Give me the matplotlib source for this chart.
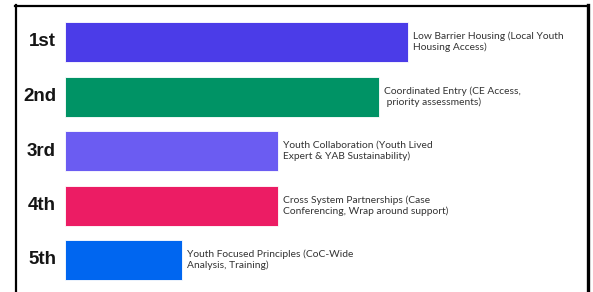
import matplotlib
matplotlib.use("Agg")
from matplotlib import pyplot as plt
from matplotlib.lines import Line2D

ranks = ["1st", "2nd", "3rd", "4th", "5th"]
scores = [100, 91.5, 62, 62, 34]
labels = [
    "Low Barrier Housing (Local Youth\nHousing Access)",
    "Coordinated Entry (CE Access,\n priority assessments)",
    "Youth Collaboration (Youth Lived\nExpert & YAB Sustainability)",
    "Cross System Partnerships (Case\nConferencing, Wrap around support)",
    "Youth Focused Principles (CoC-Wide\nAnalysis, Training)",
]
colors = ["#4b3ce8", "#009365", "#6b5cf2", "#ec1c64", "#0066f0"]

W, H = 593, 292
fig = plt.figure(figsize=(W / 100, H / 100), dpi=100)

# axes placed in pixel terms: bars start at x=65, frame ends at x=587
ax = fig.add_axes([65 / W, 0, (587 - 65) / W, 1])
step = 54.5
ax.set_ylim((H - 42) / step, -42 / step)
ax.set_xlim(0, (587 - 65) / 343 * 100)

pos = list(range(len(ranks)))
ax.barh(pos, scores, height=40 / step, color=colors, edgecolor="white", linewidth=0.6)

for y, s, lab in zip(pos, scores, labels):
    ax.text(s + 1.6, y, lab, va="center", ha="left", fontsize=7.4,
            family="Lato", color="#333333", linespacing=1.2)

ax.axis("off")

for y, r in zip(pos, ranks):
    # rank labels right-aligned at x=56px
    fig.text(56 / W, 1 - (42 + step * y) / H, r, ha="right", va="center",
             fontsize=13.5, fontweight="semibold", family="Liberation Sans",
             color="#151515")

# black frame (top, left, right)
fig.add_artist(Line2D([15 / W, 588 / W], [1 - 5.5 / H, 1 - 5.5 / H], color="black", lw=1.6))
fig.add_artist(Line2D([15.5 / W, 15.5 / W], [0, 1 - 5 / H], color="black", lw=1.6))
fig.add_artist(Line2D([587.5 / W, 587.5 / W], [0, 1 - 5 / H], color="black", lw=2.4))

fig.savefig("out.png", dpi=100)
